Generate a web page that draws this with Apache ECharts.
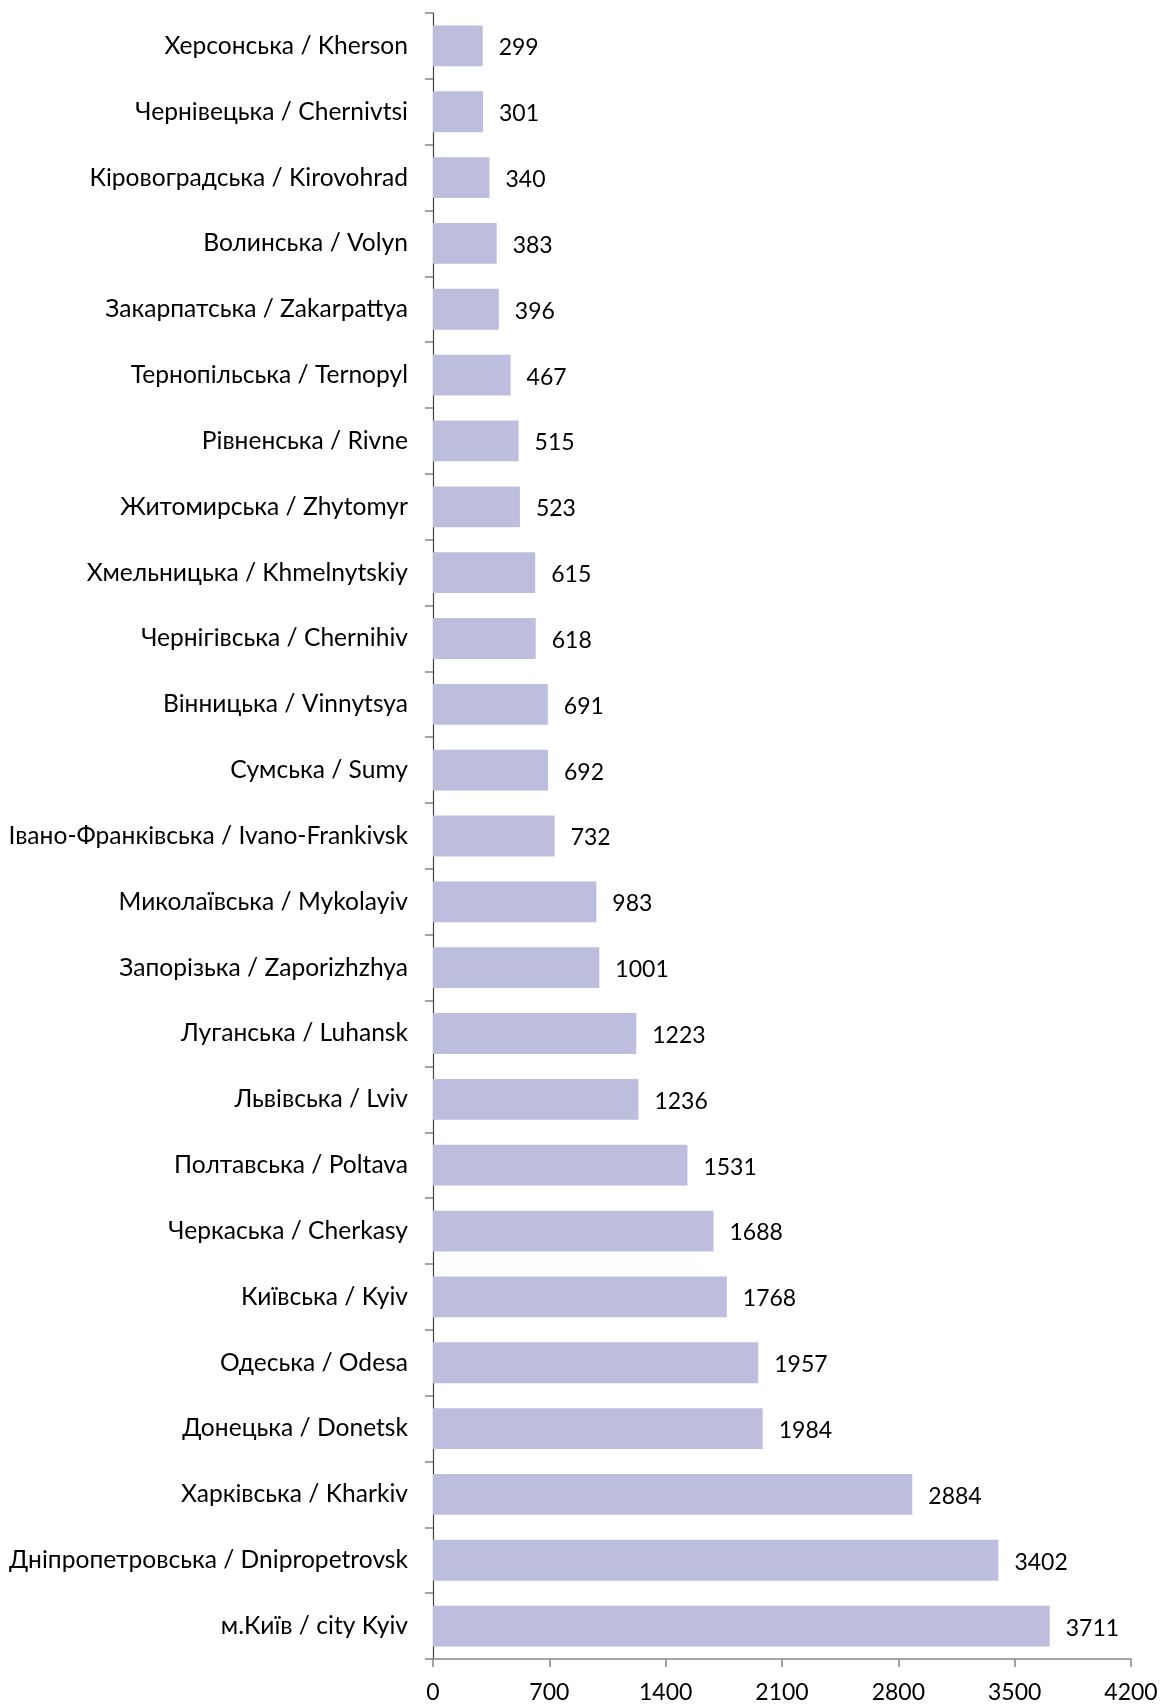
<!DOCTYPE html>
<html><head><meta charset="utf-8">
<script src="https://cdn.jsdelivr.net/npm/echarts@6/dist/echarts.min.js"></script>
<style>html,body{margin:0;padding:0;background:#fff}#c{width:1161px;height:1706px}</style>
</head><body><div id="c"></div>
<script>
const regions = ["Херсонська / Kherson","Чернівецька / Chernivtsi","Кіровоградська / Kirovohrad","Волинська / Volyn","Закарпатська / Zakarpattya","Тернопільська / Ternopyl","Рівненська / Rivne","Житомирська / Zhytomyr","Хмельницька / Khmelnytskiy","Чернігівська / Chernihiv","Вінницька / Vinnytsya","Сумська / Sumy","Івано-Франківська / Ivano-Frankivsk","Миколаївська / Mykolayiv","Запорізька / Zaporizhzhya","Луганська / Luhansk","Львівська / Lviv","Полтавська / Poltava","Черкаська / Cherkasy","Київська / Kyiv","Одеська / Odesa","Донецька / Donetsk","Харківська / Kharkiv","Дніпропетровська / Dnipropetrovsk","м.Київ / city Kyiv"];
const values = [299,301,340,383,396,467,515,523,615,618,691,692,732,983,1001,1223,1236,1531,1688,1768,1957,1984,2884,3402,3711];
const xTicks = {min:0, max:4200, interval:700};
const font = 'Lato, "Open Sans", sans-serif';
const chart = echarts.init(document.getElementById('c'));
chart.setOption({
  animation:false,
  grid:{left:433, top:13, right:30, bottom:47, containLabel:false},
  xAxis:{type:'value', min:xTicks.min, max:xTicks.max, interval:xTicks.interval,
    splitLine:{show:false},
    axisLine:{show:true, lineStyle:{color:'#868686', width:1.5}},
    axisTick:{show:true, length:8, lineStyle:{color:'#868686', width:1.5}},
    axisLabel:{color:'#000', fontSize:23, fontFamily:font, margin:22, formatter:v=>String(v)}},
  yAxis:{type:'category', data:regions, inverse:true,
    axisLine:{show:true, lineStyle:{color:'#404040', width:1.2}},
    axisTick:{show:true, length:8, alignWithLabel:false, lineStyle:{color:'#868686', width:1.5}},
    axisLabel:{color:'#000', fontSize:24.6, fontFamily:font, margin:25}},
  series:[{type:'bar', data:values, barCategoryGap:'38%',
    itemStyle:{color:'#bdbedd'},
    label:{show:true, position:'right', distance:16, color:'#000', fontSize:23, fontFamily:font, offset:[0,2]}}]
});
</script></body></html>
